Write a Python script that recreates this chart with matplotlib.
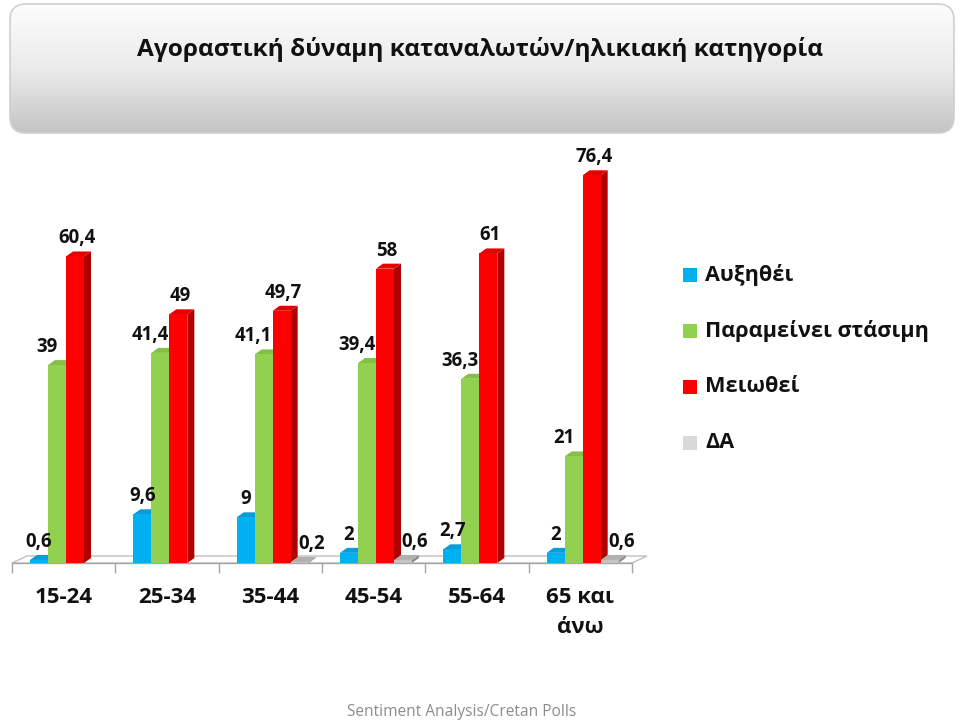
import matplotlib
matplotlib.use('Agg')
import matplotlib.pyplot as plt
import numpy as np
from matplotlib import font_manager
from matplotlib.patches import Polygon, Rectangle, FancyBboxPatch
from matplotlib.colors import LinearSegmentedColormap

# pick a sans family that ships a real bold face
BOLD_FAMILY = 'DejaVu Sans'
for fam in ['Open Sans', 'Noto Sans', 'Lato', 'Roboto', 'Liberation Sans']:
    weights = [font_manager.weight_dict.get(f.weight, f.weight) if isinstance(f.weight, str) else f.weight
               for f in font_manager.fontManager.ttflist if f.name == fam]
    if any(w >= 600 for w in weights):
        BOLD_FAMILY = fam
        break
plt.rcParams['font.family'] = [BOLD_FAMILY, 'DejaVu Sans']

title = 'Αγοραστική δύναμη καταναλωτών/ηλικιακή κατηγορία'
categories = ['15-24', '25-34', '35-44', '45-54', '55-64', '65 και\nάνω']
series_names = ['Αυξηθέι', 'Παραμείνει στάσιμη', 'Μειωθεί', 'ΔΑ']
increased = [0.6, 9.6, 9, 2, 2.7, 2]
unchanged = [39, 41.4, 41.1, 39.4, 36.3, 21]
decreased = [60.4, 49, 49.7, 58, 61, 76.4]
no_answer = [0, 0, 0.2, 0.6, 0, 0.6]
source = 'Sentiment Analysis/Cretan Polls'

series = [increased, unchanged, decreased, no_answer]
# front, top, side
bar_colors = [
    ('#00B0F0', '#0A9CD8', '#0082B4'),
    ('#92D050', '#84C044', '#6C9E38'),
    ('#FF0000', '#E80000', '#B00000'),
    ('#C4C4C4', '#B0B0B0', '#8C8C8C'),
]
legend_colors = ['#00B0F0', '#92D050', '#FF0000', '#D9D9D9']
label_dx = [0, -10, 2, 12]  # label nudge in px, per series

W, H = 960, 722


def fx(px):
    return px / W


def fy(py):
    return 1 - py / H


fig = plt.figure(figsize=(W / 100, H / 100), dpi=100)

# title box with vertical gradient
tax = fig.add_axes([fx(9), fy(134), 946 / W, 131 / H])
tax.set_xlim(0, 946)
tax.set_ylim(0, 131)
tax.axis('off')
grad = np.linspace(0, 1, 256).reshape(-1, 1)
cmap = LinearSegmentedColormap.from_list('box', ['#FDFDFD', '#EBEBEB', '#C4C4C4'])
im = tax.imshow(grad, extent=[0, 946, 0, 131], aspect='auto', cmap=cmap)
box = FancyBboxPatch((1, 1), 944, 129, boxstyle='round,pad=0,rounding_size=16',
                     fc='none', ec='#D0D0D0', lw=1.2)
tax.add_patch(box)
im.set_clip_path(box)
fig.text(fx(480), fy(50), title, ha='center', va='center',
         fontsize=17.6, fontweight='bold', color='#111111')

# chart area: x in groups, y in percent
ax = fig.add_axes([fx(12), fy(563), 620 / W, 406 / H])
ax.set_xlim(0, 6)
ax.set_ylim(0, 80)
ax.axis('off')
ux = 6 / 620
uy = 80 / 406

n = len(categories)
bw = 18 * ux
dx, dy = 7 * ux, 5 * uy

floor = Polygon([(0, 0), (n, 0), (n + 15 * ux, 7 * uy), (15 * ux, 7 * uy)],
                closed=True, fc='white', ec='#BFBFBF', lw=1, clip_on=False, zorder=1)
ax.add_patch(floor)
ax.plot([0, n], [0, 0], color='#A6A6A6', lw=1, clip_on=False, zorder=1)
ax.vlines(np.arange(n + 1), -10 * uy, 0, color='#A6A6A6', lw=1, clip_on=False, zorder=1)

groups = np.arange(n)
for k, vals in enumerate(series):
    front, top, side = bar_colors[k]
    x0 = groups + (1 + k) * bw
    vals = np.array(vals, dtype=float)
    shown = vals > 0
    for x, v in zip(x0[shown], vals[shown]):
        ax.add_patch(Polygon([(x + bw, 0), (x + bw + dx, dy), (x + bw + dx, v + dy), (x + bw, v)],
                             closed=True, fc=side, ec='none', clip_on=False, zorder=2 + 2 * k))
        ax.add_patch(Polygon([(x, v), (x + bw, v), (x + bw + dx, v + dy), (x + dx, v + dy)],
                             closed=True, fc=top, ec='none', clip_on=False, zorder=2 + 2 * k))
        ax.text(x + bw / 2 + label_dx[k] * ux, v + 18 * uy, f'{v:g}'.replace('.', ','),
                ha='center', va='center', fontsize=13.4, fontweight='bold',
                color='#111111', zorder=20)
    ax.bar(x0[shown], vals[shown], bw, align='edge', color=front, lw=0,
           clip_on=False, zorder=3 + 2 * k)

# category labels under each group
for i, cat in enumerate(categories):
    ax.text(i + 0.5, -24 * uy, cat, ha='center', va='top',
            fontsize=16, fontweight='bold', color='#111111', linespacing=1.55)

# legend
for i, name in enumerate(series_names):
    yc = 275 + 56 * i
    fig.add_artist(Rectangle((fx(683), fy(yc + 7)), 14 / W, 14 / H,
                             transform=fig.transFigure, fc=legend_colors[i], ec='none'))
    fig.text(fx(705), fy(yc), name, ha='left', va='center',
             fontsize=15.6, fontweight='bold', color='#111111')

fig.text(fx(462), fy(712), source, ha='center', va='center',
         fontsize=11.2, color='#8C8C8C')

fig.savefig('out.png', dpi=100)
